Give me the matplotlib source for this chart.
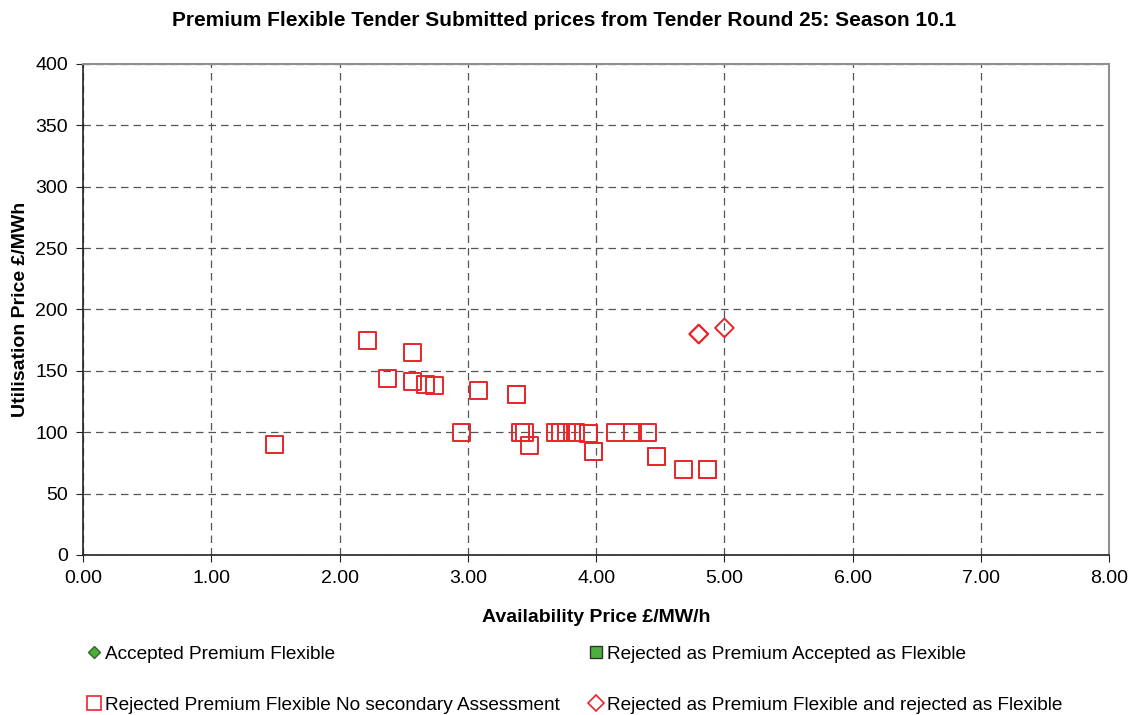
import matplotlib
matplotlib.use("Agg")
import matplotlib.pyplot as plt
from matplotlib.lines import Line2D
from matplotlib.ticker import MultipleLocator, FormatStrFormatter

plt.rcParams['font.family'] = ['Liberation Sans', 'DejaVu Sans']

# Rejected Premium Flexible, no secondary assessment (open red squares)
sq_avail = [1.49, 2.22, 2.57, 2.37, 2.57, 2.67, 2.74, 2.95, 3.08,
            3.38, 3.38, 3.41, 3.44, 3.48, 3.68, 3.72, 3.77, 3.84,
            3.94, 3.94, 3.98, 3.98, 4.15, 4.28, 4.40, 4.47, 4.47,
            4.68, 4.87, 4.87]
sq_util = [90, 175, 165, 144, 141, 139, 138, 100, 134,
           131, 131, 100, 100, 89, 100, 100, 100, 100,
           99, 99, 84, 84, 100, 100, 100, 80, 80,
           70, 70, 70]

# Rejected as Premium Flexible and rejected as Flexible (open red diamonds)
dia_avail = [4.80, 4.80, 5.00]
dia_util = [180, 180, 185]

# no points in these two series
acc_avail, acc_util = [], []
flex_avail, flex_util = [], []

labels = ['Accepted Premium Flexible',
          'Rejected as Premium Accepted as Flexible',
          'Rejected Premium Flexible No secondary Assessment',
          'Rejected as Premium Flexible and rejected as Flexible']

red = '#e8262b'
green = '#4caf3c'

fig = plt.figure(figsize=(11.33, 7.15), dpi=100)
ax = fig.add_axes([0.0733, 0.2238, 0.9057, 0.6867])

ax.scatter(acc_avail, acc_util, marker='D', s=40, facecolor=green, edgecolor='#2e6b25')
ax.scatter(flex_avail, flex_util, marker='s', s=60, facecolor=green, edgecolor='#333333')
ax.scatter(sq_avail, sq_util, marker='s', s=150, facecolor='none',
           edgecolor=red, linewidth=1.4)
ax.scatter(dia_avail, dia_util, marker='D', s=90, facecolor='none',
           edgecolor=red, linewidth=1.4)

ax.set_xlim(0, 8)
ax.set_ylim(0, 400)
ax.xaxis.set_major_locator(MultipleLocator(1))
ax.yaxis.set_major_locator(MultipleLocator(50))
ax.xaxis.set_major_formatter(FormatStrFormatter('%.2f'))
ax.grid(True, linestyle=(0, (6, 4)), color='#555555', linewidth=0.9)
ax.set_axisbelow(True)
for s in ['top', 'right']:
    ax.spines[s].set_color('#909090')
    ax.spines[s].set_linewidth(1.5)
for s in ['left', 'bottom']:
    ax.spines[s].set_color('#222222')
    ax.spines[s].set_linewidth(1.2)
ax.tick_params(labelsize=14, length=5, color='#222222', pad=6)

ax.set_xlabel('Availability Price £/MW/h', fontsize=14, fontweight='bold', labelpad=16)
ax.set_ylabel('Utilisation Price £/MWh', fontsize=14, fontweight='bold', labelpad=4)
fig.suptitle('Premium Flexible Tender Submitted prices from Tender Round 25: Season 10.1',
             fontsize=15, fontweight='bold', x=0.498, y=0.985)

h_acc = Line2D([], [], ls='none', marker='D', markersize=6, markerfacecolor=green,
               markeredgecolor='#2e6b25')
h_flex = Line2D([], [], ls='none', marker='s', markersize=8, markerfacecolor=green,
                markeredgecolor='#333333')
h_sq = Line2D([], [], ls='none', marker='s', markersize=10, markerfacecolor='none',
              markeredgecolor=red, markeredgewidth=1.2)
h_dia = Line2D([], [], ls='none', marker='D', markersize=8, markerfacecolor='none',
               markeredgecolor=red, markeredgewidth=1.2)

# legend fills column by column, so order the entries to give the same rows
fig.legend([h_acc, h_sq, h_flex, h_dia], [labels[0], labels[2], labels[1], labels[3]],
           loc='upper left', bbox_to_anchor=(0.075, 0.097), ncol=2, frameon=False,
           fontsize=13.7, handletextpad=0.15, columnspacing=1.45, labelspacing=1.75,
           handlelength=0.9, borderaxespad=0, borderpad=0)

fig.savefig('out.png', dpi=100)
